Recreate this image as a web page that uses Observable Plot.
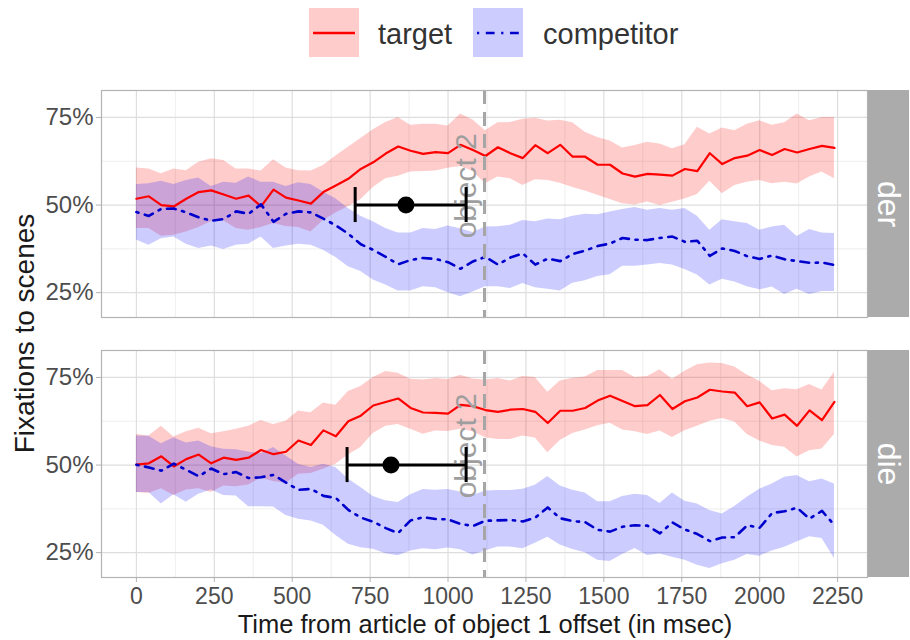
<!DOCTYPE html>
<html><head><meta charset="utf-8">
<script src="https://cdn.jsdelivr.net/npm/d3@7"></script>
<script src="https://cdn.jsdelivr.net/npm/@observablehq/plot@0.6"></script>
<style>
body{margin:0;background:#fff;font-family:"Liberation Sans",Arial,sans-serif;}
svg{display:block}
</style></head><body>
<div id="chart"></div>
<script>
const times = [0,40,80,120,160,200,240,280,320,360,400,440,480,520,560,600,640,680,720,760,800,840,880,920,960,1000,1040,1080,1120,1160,1200,1240,1280,1320,1360,1400,1440,1480,1520,1560,1600,1640,1680,1720,1760,1800,1840,1880,1920,1960,2000,2040,2080,2120,2160,2200,2240];
const articles = ["der", "die"];
const conditions = ["target", "competitor"];

const derTargetMean = [0.518,0.525,0.500,0.496,0.518,0.537,0.542,0.530,0.518,0.527,0.496,0.544,0.521,0.513,0.504,0.537,0.556,0.575,0.603,0.622,0.647,0.667,0.655,0.646,0.651,0.648,0.672,0.657,0.640,0.665,0.648,0.634,0.671,0.648,0.672,0.638,0.638,0.615,0.615,0.590,0.581,0.589,0.587,0.584,0.603,0.597,0.648,0.617,0.634,0.641,0.657,0.643,0.660,0.650,0.660,0.669,0.663];
const derTargetLo = [0.433,0.433,0.411,0.414,0.423,0.436,0.452,0.455,0.433,0.428,0.436,0.447,0.439,0.436,0.423,0.456,0.477,0.495,0.515,0.550,0.575,0.582,0.594,0.596,0.597,0.605,0.610,0.596,0.561,0.580,0.575,0.556,0.572,0.570,0.562,0.550,0.540,0.528,0.516,0.504,0.500,0.509,0.499,0.508,0.517,0.530,0.568,0.532,0.556,0.565,0.570,0.561,0.565,0.560,0.580,0.594,0.575];
const derTargetHi = [0.606,0.603,0.589,0.603,0.598,0.622,0.632,0.627,0.603,0.603,0.597,0.629,0.606,0.598,0.597,0.613,0.640,0.665,0.690,0.715,0.736,0.750,0.728,0.731,0.731,0.726,0.760,0.743,0.712,0.735,0.736,0.745,0.748,0.740,0.742,0.735,0.708,0.693,0.683,0.663,0.670,0.679,0.674,0.661,0.672,0.722,0.703,0.720,0.712,0.731,0.741,0.728,0.735,0.760,0.741,0.750,0.750];

const derCompMean = [0.480,0.469,0.489,0.490,0.479,0.465,0.455,0.460,0.482,0.475,0.502,0.452,0.475,0.482,0.479,0.461,0.442,0.418,0.388,0.372,0.352,0.331,0.343,0.349,0.346,0.337,0.318,0.339,0.352,0.330,0.350,0.362,0.330,0.347,0.340,0.360,0.370,0.383,0.390,0.406,0.401,0.400,0.406,0.410,0.395,0.398,0.355,0.376,0.369,0.354,0.346,0.356,0.345,0.340,0.335,0.336,0.329];
const derCompLo = [0.400,0.385,0.404,0.409,0.388,0.376,0.383,0.373,0.385,0.388,0.409,0.376,0.383,0.388,0.385,0.371,0.350,0.324,0.310,0.286,0.272,0.255,0.255,0.267,0.264,0.250,0.238,0.252,0.267,0.267,0.262,0.276,0.264,0.260,0.255,0.277,0.284,0.296,0.301,0.325,0.325,0.329,0.333,0.329,0.316,0.300,0.272,0.288,0.280,0.267,0.258,0.266,0.245,0.260,0.245,0.253,0.253];
const derCompHi = [0.559,0.561,0.568,0.559,0.570,0.577,0.553,0.565,0.562,0.580,0.565,0.565,0.553,0.564,0.559,0.537,0.518,0.490,0.468,0.452,0.433,0.420,0.420,0.433,0.430,0.440,0.432,0.422,0.437,0.438,0.442,0.456,0.452,0.460,0.458,0.468,0.474,0.472,0.480,0.487,0.493,0.485,0.490,0.485,0.490,0.468,0.428,0.458,0.452,0.447,0.428,0.437,0.442,0.410,0.430,0.420,0.419];

const dieTargetMean = [0.501,0.505,0.525,0.496,0.517,0.530,0.505,0.521,0.515,0.521,0.543,0.531,0.538,0.570,0.557,0.599,0.582,0.625,0.641,0.670,0.680,0.690,0.663,0.650,0.649,0.647,0.672,0.668,0.657,0.652,0.658,0.660,0.652,0.620,0.655,0.655,0.663,0.684,0.698,0.683,0.668,0.671,0.700,0.660,0.682,0.693,0.715,0.710,0.707,0.668,0.679,0.633,0.644,0.612,0.656,0.628,0.680];
const dieTargetLo = [0.422,0.419,0.432,0.413,0.429,0.432,0.422,0.440,0.438,0.443,0.463,0.453,0.448,0.474,0.476,0.488,0.502,0.529,0.550,0.590,0.611,0.616,0.602,0.588,0.597,0.596,0.602,0.595,0.578,0.573,0.573,0.583,0.577,0.535,0.570,0.590,0.600,0.612,0.619,0.600,0.595,0.587,0.597,0.579,0.598,0.611,0.625,0.633,0.623,0.587,0.569,0.556,0.551,0.523,0.541,0.546,0.587];
const dieTargetHi = [0.587,0.583,0.611,0.580,0.595,0.605,0.589,0.595,0.602,0.611,0.627,0.616,0.625,0.654,0.649,0.677,0.671,0.710,0.724,0.750,0.767,0.762,0.745,0.743,0.747,0.744,0.756,0.746,0.743,0.747,0.740,0.753,0.750,0.708,0.740,0.748,0.751,0.770,0.770,0.770,0.750,0.753,0.772,0.745,0.768,0.786,0.791,0.790,0.780,0.757,0.739,0.712,0.718,0.715,0.730,0.714,0.765];

const dieCompMean = [0.501,0.493,0.484,0.504,0.486,0.468,0.490,0.474,0.480,0.463,0.465,0.472,0.450,0.429,0.432,0.412,0.406,0.372,0.350,0.338,0.320,0.306,0.342,0.351,0.346,0.345,0.332,0.326,0.341,0.342,0.343,0.339,0.350,0.379,0.348,0.340,0.337,0.315,0.310,0.324,0.328,0.327,0.305,0.336,0.316,0.303,0.283,0.293,0.294,0.328,0.321,0.363,0.368,0.378,0.347,0.369,0.328];
const dieCompLo = [0.422,0.422,0.389,0.415,0.394,0.417,0.429,0.413,0.412,0.381,0.381,0.380,0.356,0.345,0.340,0.328,0.299,0.274,0.264,0.260,0.247,0.241,0.255,0.261,0.258,0.263,0.258,0.243,0.255,0.266,0.266,0.261,0.277,0.294,0.272,0.259,0.250,0.228,0.225,0.245,0.262,0.242,0.246,0.237,0.228,0.214,0.205,0.218,0.228,0.245,0.240,0.255,0.265,0.280,0.295,0.290,0.233];
const dieCompHi = [0.583,0.582,0.561,0.578,0.563,0.569,0.552,0.545,0.544,0.537,0.532,0.550,0.526,0.502,0.493,0.502,0.493,0.460,0.436,0.410,0.398,0.393,0.415,0.430,0.428,0.430,0.423,0.413,0.426,0.427,0.427,0.431,0.442,0.467,0.440,0.428,0.420,0.395,0.395,0.410,0.417,0.413,0.390,0.420,0.397,0.389,0.370,0.360,0.382,0.408,0.431,0.446,0.465,0.470,0.452,0.460,0.446];

// horizontal error bars (per article), in msec
const errLo = [702, 676];
const errMid = [865, 817];
const errHi = [1058, 1058];
const errY = 0.5;
const object2Onset = 1117;
const object2Label = "object 2";

const xTicks = [0,250,500,750,1000,1250,1500,1750,2000,2250];
const xMinor = [125,375,625,875,1125,1375,1625,1875,2125];
const yTicks = [0.25,0.5,0.75];
const yMinor = [0.375,0.625];
const xTitle = "Time from article of object 1 offset (in msec)";
const yTitle = "Fixations to scenes";

const colors = {target: "#FF0000", competitor: "#0000CD"};
const dotdash = "2.2,6.6,8.8,6.6";

const seriesTable = [
  {article: "der", cond: "target", mean: derTargetMean, lo: derTargetLo, hi: derTargetHi},
  {article: "der", cond: "competitor", mean: derCompMean, lo: derCompLo, hi: derCompHi},
  {article: "die", cond: "target", mean: dieTargetMean, lo: dieTargetLo, hi: dieTargetHi},
  {article: "die", cond: "competitor", mean: dieCompMean, lo: dieCompLo, hi: dieCompHi}
];
const rows = seriesTable.flatMap(s => times.map((t, i) => ({article: s.article, cond: s.cond, t, mean: s.mean[i], lo: s.lo[i], hi: s.hi[i]})));
const tgt = rows.filter(d => d.cond === "target");
const cmp = rows.filter(d => d.cond === "competitor");
const errs = articles.map((a, i) => ({article: a, lo: errLo[i], mid: errMid[i], hi: errHi[i], y: errY}));
const strips = articles.map(a => ({article: a}));
const XMAX = 2346;

// Legend
const legend = d3.create("svg").attr("width", 910).attr("height", 70)
  .style("font-family", "'Liberation Sans', Arial, sans-serif");
const items = [
  {cond: "target", bx: 309, tx: 378, fill: "#ffcccc", dash: null},
  {cond: "competitor", bx: 473, tx: 543, fill: "#ccccff", dash: dotdash}
];
for (const it of items) {
  legend.append("rect").attr("x", it.bx).attr("y", 8).attr("width", 50).attr("height", 49).attr("fill", it.fill);
  legend.append("line").attr("x1", it.bx + 4).attr("x2", it.bx + 46).attr("y1", 33).attr("y2", 33)
    .attr("stroke", colors[it.cond]).attr("stroke-width", 2.4)
    .attr("stroke-dasharray", it.dash);
  legend.append("text").attr("x", it.tx).attr("y", 34).attr("dominant-baseline", "central")
    .attr("font-size", 29).attr("fill", "#333").text(it.cond);
}
document.getElementById("chart").append(legend.node());

const chart = Plot.plot({
  width: 910,
  height: 570,
  marginLeft: 101,
  marginRight: 43,
  marginTop: 19,
  marginBottom: 62,
  style: {fontFamily: "'Liberation Sans', Arial, sans-serif", background: "white"},
  x: {domain: [-112, XMAX]},
  y: {domain: [0.179, 0.827]},
  fy: {domain: articles, paddingInner: 0.1264, paddingOuter: 0, axis: null},
  marks: [
    Plot.gridX({ticks: xMinor, stroke: "#e6e6e6", strokeOpacity: 1, strokeWidth: 0.7}),
    Plot.gridY({ticks: yMinor, stroke: "#e6e6e6", strokeOpacity: 1, strokeWidth: 0.7}),
    Plot.gridX({ticks: xTicks, stroke: "#dedede", strokeOpacity: 1, strokeWidth: 1.2}),
    Plot.gridY({ticks: yTicks, stroke: "#dedede", strokeOpacity: 1, strokeWidth: 1.2}),
    Plot.areaY(tgt, {x: "t", y1: "lo", y2: "hi", fy: "article", fill: colors.target, fillOpacity: 0.2}),
    Plot.areaY(cmp, {x: "t", y1: "lo", y2: "hi", fy: "article", fill: "#0000FF", fillOpacity: 0.2}),
    Plot.lineY(tgt, {x: "t", y: "mean", fy: "article", stroke: colors.target, strokeWidth: 2.2}),
    Plot.lineY(cmp, {x: "t", y: "mean", fy: "article", stroke: colors.competitor, strokeWidth: 2.6, strokeDasharray: dotdash}),
    Plot.ruleX([object2Onset], {stroke: "#a6a6a6", strokeWidth: 3, strokeDasharray: "14,8"}),
    Plot.text([object2Label], {x: 1060, y: 0.555, text: d => d, rotate: -90, fill: "#9e9e9e", fontSize: 30}),
    Plot.ruleY(errs, {fy: "article", y: "y", x1: "lo", x2: "hi", stroke: "black", strokeWidth: 3}),
    Plot.ruleX(errs, {fy: "article", x: "lo", y1: d => d.y - 0.05, y2: d => d.y + 0.05, stroke: "black", strokeWidth: 3}),
    Plot.ruleX(errs, {fy: "article", x: "hi", y1: d => d.y - 0.05, y2: d => d.y + 0.05, stroke: "black", strokeWidth: 3}),
    Plot.dot(errs, {fy: "article", x: "mid", y: "y", r: 8.5, fill: "black"}),
    Plot.frame({stroke: "#b3b3b3", strokeWidth: 1.2}),
    Plot.rect(strips, {fy: "article", x1: XMAX, x2: XMAX, insetLeft: 1, insetRight: -42, fill: "#ababab"}),
    Plot.text(strips, {fy: "article", x: XMAX, dx: 21, text: "article", rotate: 90, fill: "white", fontSize: 32, frameAnchor: "middle"}),
    Plot.axisY({ticks: yTicks, tickFormat: d => Math.round(d * 100) + "%", tickSize: 5, tickPadding: 3, stroke: "#b3b3b3", fill: "#4d4d4d", fontSize: 24, label: null}),
    Plot.axisX({ticks: xTicks, tickFormat: d => String(d), tickSize: 5, tickPadding: 5, stroke: "#b3b3b3", fill: "#4d4d4d", fontSize: 23, label: null})
  ]
});
const sel = d3.select(chart);
sel.append("text").attr("transform", "translate(24,263.5) rotate(-90)")
  .attr("text-anchor", "middle").attr("dominant-baseline", "central")
  .attr("font-size", 28).attr("fill", "#1a1a1a").text(yTitle);
sel.append("text").attr("x", 485).attr("y", 554)
  .attr("text-anchor", "middle").attr("dominant-baseline", "central")
  .attr("font-size", 25.5).attr("fill", "#1a1a1a").text(xTitle);
document.getElementById("chart").append(chart);
</script>
</body></html>
